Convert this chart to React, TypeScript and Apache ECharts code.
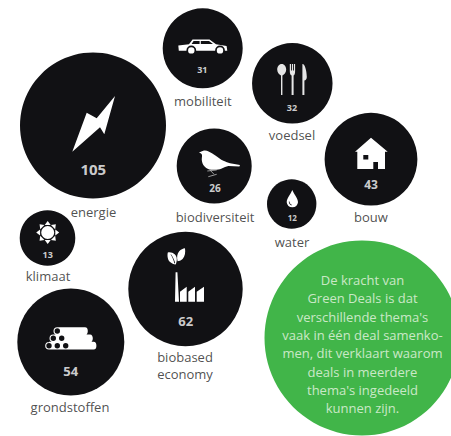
import React, { useEffect, useRef } from "react";
import * as echarts from "echarts";

const themes = ["mobiliteit", "voedsel", "energie", "biodiversiteit", "water", "bouw", "klimaat", "biobased\neconomy", "grondstoffen"];
const dealCounts = [31, 32, 105, 26, 12, 43, 13, 62, 54];
const bubbleX = [202.7, 292.3, 93, 214.2, 291.7, 371, 47.5, 185.5, 70.8];
const bubbleY = [48.3, 83.3, 125.5, 166, 204, 159.2, 238, 289, 342];
const bubbleDiameter = [80, 80.5, 146, 75, 49.4, 92.8, 55.6, 114.4, 107];
const countX = [202.3, 292, 93.3, 215, 292.3, 371, 47.7, 185.7, 70.7];
const countY = [69.3, 107.3, 169, 188.3, 217.3, 184.3, 254.3, 320.7, 370.7];
const countFont = [9, 9, 15, 10, 8, 12, 9, 13, 13];
const labelX = [202.8, 292, 93.5, 215, 292, 371, 48, 185, 70];
const labelY = [100.5, 135, 212, 217, 241.7, 216.7, 276, 365, 407];
const noteText = [
  "De kracht van",
  "Green Deals is dat",
  "verschillende thema's",
  "vaak in één deal samenko-",
  "men, dit verklaart waarom",
  "deals in meerdere",
  "thema's ingedeeld",
  "kunnen zijn.",
];

const INK = "#111114";
const WHITE = "#ffffff";
const GREEN = "#41b549";
const FONT = '"Open Sans", "Noto Sans", sans-serif';

const circle = (cx: number, cy: number, r: number) =>
  `M${cx - r} ${cy}A${r} ${r} 0 1 1 ${cx + r} ${cy}A${r} ${r} 0 1 1 ${cx - r} ${cy}Z`;
const ray = (a: number) => {
  const c = Math.cos(a), s = Math.sin(a), cx = 47.7, cy = 232.5;
  const p = (r: number, t: number) => `${cx + c * r - s * t} ${cy + s * r + c * t}`;
  return `M${p(7.6, -3)}L${p(11.5, 0)}L${p(7.6, 3)}Z`;
};
const sunRays = [0, 1, 2, 3, 4, 5, 6, 7].map((i) => ray((i * Math.PI) / 4)).join("");

const iconLayers: { d: string; fill: string }[] = [
  // car
  { d: "M178.3 45.6L189 44.2L192.5 39.6L209.5 39.6L216 44.2L226.6 46L227.3 50.8L178.8 50.8Z", fill: WHITE },
  { d: "M193.6 41H199.6V44H191.6ZM200.8 41H209L213 44H200.8Z" + circle(191.3, 50.4, 4.9) + circle(220, 50.4, 4.9), fill: INK },
  { d: circle(191.3, 50.4, 3.2) + circle(220, 50.4, 3.2), fill: WHITE },
  // spoon, fork, knife
  {
    d:
      "M281.7 64C284.4 64 286.2 66.6 286.2 69.6C286.2 72.6 284.4 74.8 282.4 75.4V95H281V75.4C279 74.8 277.2 72.6 277.2 69.6C277.2 66.6 279 64 281.7 64Z" +
      "M289.8 64H291V70.5H291.9V64H293V70.5H293.9V64H295.1V71C295.1 73.5 294.6 75 293.6 75.6V95H291.6V75.6C290.3 75 289.8 73.5 289.8 71Z" +
      "M302.4 64C304.6 63.6 306.7 70 306.8 77C306.8 79 305.6 80.5 304.4 80.5V95H302.4Z",
    fill: "#e6e6e6",
  },
  // lightning bolt
  { d: "M115 96L96.7 118.3L86.7 112.7L72.3 151.7L100 127.3L104.3 134.3Z", fill: WHITE },
  // bird
  {
    d: "M199 152.4L203.2 150.8C205 150.4 207 150.6 208.6 151.6C211 152.8 213 154 215 155.2C218 157.2 220.6 159.6 223.4 160.8C226 162 228 162.8 230 163.2L240 165L239.4 166.4L228.4 166C226 166.6 224 167.6 221.8 168.4C219 169.4 217 169.8 215 169.8C211 170 208.2 169.4 206.2 168C203.8 166.2 202.4 164 202 161.6C201.4 159 202.2 157 202 155C201.8 153.6 200.6 153 199 152.4Z",
    fill: WHITE,
  },
  // water drop
  { d: "M292.3 190C290.6 194.4 286.7 198 286.7 202.2A5.7 5.7 0 0 0 298 202.2C298 198 294 194.4 292.3 190Z", fill: WHITE },
  { d: "M288.8 201.5C288.8 203.6 290 205 291.6 205.4L291.6 204.6C290.4 204.2 289.5 203 289.5 201.5Z", fill: INK },
  // house
  { d: "M371 137.7L387.7 151.7L385 151.7V169H357.3V151.7L355 151.7Z", fill: WHITE },
  { d: "M363.3 155H368.3V159.4H363.3ZM373.3 162H378V169H373.3Z", fill: INK },
  // sun
  { d: sunRays + circle(47.7, 232.5, 6.5), fill: WHITE },
  // factory and leaves
  {
    d:
      "M175.6 272.3H177.4L179 301.7H175Z" +
      "M180 291.8L186.7 286.7V301.7H180ZM188.3 291.8L195 286.7V301.7H188.3ZM196.7 291.8L204 286.7V301.7H196.7Z" +
      "M167.8 252.4C172.6 251.6 177 254.6 176.8 259.4C176.7 261.4 176.4 263 175.6 264.4C171.6 264 168.4 261.4 167.8 258C167.4 256 167.4 254 167.8 252.4Z" +
      "M185 248.3C185.6 252.4 185 256.4 182.6 259C180.8 260.8 179 261.2 177.6 261.2C176.6 257 177.2 253.4 179.2 251.2C180.8 249.6 183 248.6 185 248.3Z",
    fill: WHITE,
  },
  { d: "M170.6 254.6C172.4 257.4 173.6 260 174.4 263.4L175.2 263C174.4 259.6 172.8 257 171 254.2Z", fill: INK },
  // logs
  {
    d:
      "M57.3 327.3H85C87 327.3 87.8 329 87.8 331C87.8 333 87 335 85 335H57.3Z" +
      "M53.3 334.4H90C92 334.4 92.8 336.3 92.8 338.3C92.8 340.3 92 342.4 90 342.4H53.3Z" +
      "M49 341.8H93.6C95.8 341.8 96.4 343.7 96.4 345.7C96.4 347.7 95.8 349.5 93.6 349.5H49Z" +
      circle(57.3, 331, 3.8) + circle(53.3, 338.3, 3.8) + circle(49, 345.7, 3.8),
    fill: WHITE,
  },
  {
    d:
      circle(57.3, 331, 2.7) + circle(53.3, 338.3, 2.7) + circle(61.7, 338.3, 2.7) +
      circle(49, 345.7, 2.7) + circle(57.3, 345.7, 2.7) + circle(65.7, 345.7, 2.7),
    fill: INK,
  },
];

const birdLegs = [
  [207.3, 171, 216.7, 170],
  [210, 170, 214, 174.3],
  [208.3, 176.7, 216.7, 174.3],
];

iconLayers.forEach((layer, i) => {
  echarts.graphic.registerShape("icon" + i, echarts.graphic.extendPath(layer.d, {}));
});

export default function App() {
  const ref = useRef<HTMLDivElement>(null);
  useEffect(() => {
    document.body.style.margin = "0";
    const chart = echarts.init(ref.current!, undefined, { renderer: "svg" });
    const hidden = { symbolSize: 1, itemStyle: { color: "transparent" }, silent: true };
    chart.setOption({
      animation: false,
      backgroundColor: "#ffffff",
      grid: { left: 0, right: 0, top: 0, bottom: 0 },
      xAxis: { type: "value", min: 0, max: 451, show: false },
      yAxis: { type: "value", min: 0, max: 436, inverse: true, show: false },
      series: [
        {
          name: "note",
          type: "scatter",
          silent: true,
          clip: true,
          symbolSize: 195,
          itemStyle: { color: GREEN, opacity: 1 },
          data: [[362, 338]],
        },
        {
          name: "deals",
          type: "scatter",
          silent: true,
          itemStyle: { color: INK, opacity: 1 },
          symbolSize: (_: unknown, p: { dataIndex: number }) => bubbleDiameter[p.dataIndex],
          data: themes.map((t, i) => ({ name: t, value: [bubbleX[i], bubbleY[i], dealCounts[i]] })),
        },
        {
          name: "counts",
          type: "scatter",
          ...hidden,
          z: 5,
          data: dealCounts.map((c, i) => ({
            value: [countX[i], countY[i], c],
            label: {
              show: true,
              position: "inside",
              formatter: String(c),
              color: "#ffffff",
              fontFamily: FONT,
              fontWeight: "bold",
              fontSize: countFont[i],
            },
          })),
        },
        {
          name: "themes",
          type: "scatter",
          ...hidden,
          z: 5,
          data: themes.map((t, i) => ({
            value: [labelX[i], labelY[i]],
            label: {
              show: true,
              position: "inside",
              formatter: t,
              color: "#222222",
              fontFamily: FONT,
              fontSize: 13,
              lineHeight: 17,
            },
          })),
        },
        {
          name: "noteText",
          type: "scatter",
          ...hidden,
          z: 5,
          data: [
            {
              value: [362.5, 344.2],
              label: {
                show: true,
                position: "inside",
                formatter: noteText.join("\n"),
                color: "#eef7e8",
                fontFamily: FONT,
                fontSize: 13,
                lineHeight: 18.3,
                align: "center",
              },
            },
          ],
        },
      ],
      graphic: {
        elements: [
          ...iconLayers.map((layer, i) => ({
            type: "icon" + i,
            x: 0,
            y: 0,
            z: 50 + i,
            silent: true,
            style: { fill: layer.fill },
          })),
          ...birdLegs.map(([x1, y1, x2, y2]) => ({
            type: "line",
            z: 80,
            silent: true,
            shape: { x1, y1, x2, y2 },
            style: { stroke: "#bdbdbd", lineWidth: 0.8 },
          })),
        ],
      },
    });
    return () => chart.dispose();
  }, []);
  return <div ref={ref} style={{ width: 451, height: 436 }} />;
}
